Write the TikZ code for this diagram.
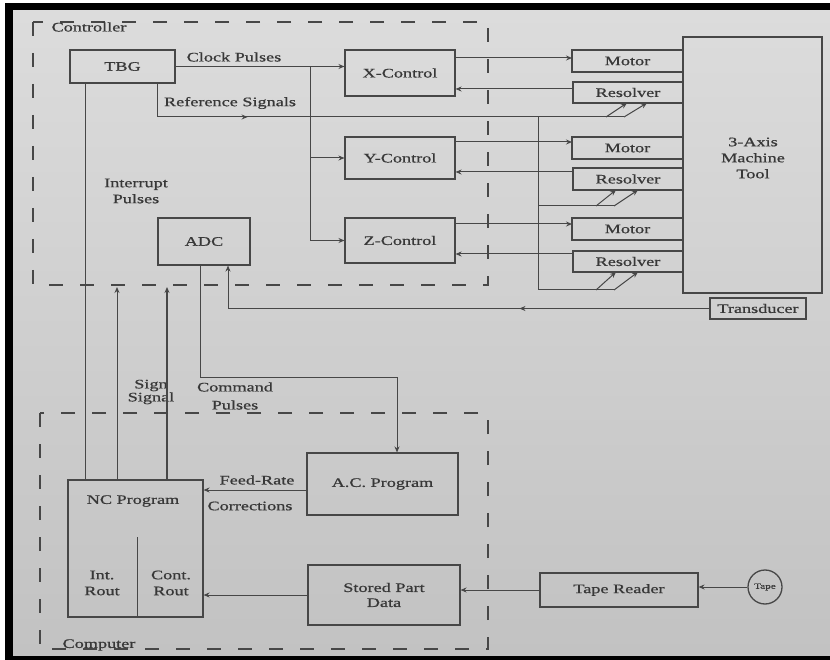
\documentclass[tikz,border=0pt]{standalone}
\usepackage{fontspec}
\setmainfont{Liberation Serif}[FakeStretch=1.4,FakeBold=0.8]
\usetikzlibrary{arrows.meta,decorations.markings}
\definecolor{lc}{HTML}{474747}
\definecolor{tc}{HTML}{383838}
\definecolor{bgtop}{HTML}{DCDCDC}
\definecolor{bgbot}{HTML}{C2C2C2}
\tikzset{
  ln/.style={draw=lc, line width=1pt},
  arr/.style={ln, -{Stealth[length=6pt,width=5pt]}},
  box/.style={draw=lc, line width=1.1pt, inner sep=0pt, text=tc, align=center},
  lbl/.style={text=tc, inner sep=0pt, align=center},
  dashbox/.style={draw=lc, line width=1.3pt, dash pattern=on 14pt off 17pt},
  midarrow/.style={postaction={decorate}, decoration={markings, mark=at position #1 with {\arrow{Stealth[length=6pt,width=5pt]}}}}
}
\begin{document}
\begin{tikzpicture}[x=1pt,y=-1pt, font=\fontsize{13}{16}\selectfont]
\useasboundingbox (0,0) rectangle (830,660);
\fill[white] (0,0) rectangle (830,660);
\shade[top color=bgtop, bottom color=bgbot] (13,10) rectangle (830,656);
\fill[black] (5,3) rectangle (830,10);
\fill[black] (5,3) rectangle (13,660);
\fill[black] (5,656) rectangle (830,660);

% dashed regions
\draw[dashbox] (33,22) rectangle (488,285);
\draw[dashbox] (40,413) rectangle (488,649);
\node[lbl] (ctl) at (89,27) {Controller};
\node[lbl] (cmp) at (99,645) {Computer};

% controller boxes
\node[box, minimum width=105pt, minimum height=33pt] (tbg) at (122.5,66.5) {TBG};
\node[box, minimum width=110pt, minimum height=46pt] (xc) at (400,73) {X-Control};
\node[box, minimum width=110pt, minimum height=42pt] (yc) at (400,158) {Y-Control};
\node[box, minimum width=110pt, minimum height=45pt] (zc) at (400,240.5) {Z-Control};
\node[box, minimum width=92pt, minimum height=47pt] (adc) at (204,241.5) {ADC};

% motors / resolvers
\node[box, minimum width=111pt, minimum height=22pt] (m1) at (627.5,61) {Motor};
\node[box, minimum width=110pt, minimum height=21pt] (r1) at (628,92.5) {Resolver};
\node[box, minimum width=111pt, minimum height=22pt] (m2) at (627.5,148) {Motor};
\node[box, minimum width=110pt, minimum height=22pt] (r2) at (628,179) {Resolver};
\node[box, minimum width=111pt, minimum height=22pt] (m3) at (627.5,229) {Motor};
\node[box, minimum width=110pt, minimum height=21pt] (r3) at (628,261.5) {Resolver};

% machine tool
\node[box, minimum width=139pt, minimum height=256pt] (mt) at (752.5,165) {};
\node[lbl] (mttxt) at (753,158) {3-Axis\\Machine\\Tool};
\node[box, minimum width=96pt, minimum height=21pt] (tr) at (758,308.5) {Transducer};

% computer boxes
\node[box, minimum width=135pt, minimum height=137pt] (nc) at (135.5,548.5) {};
\node[lbl] (nctxt) at (133,501) {NC Program};
\coordinate (ncdiv) at (137,537);
\draw[ln] (ncdiv) -- (ncdiv |- nc.south);
\node[lbl] (intr) at (102,583) {Int.\\Rout};
\node[lbl] (cntr) at (171,583) {Cont.\\Rout};
\node[box, minimum width=151pt, minimum height=62pt] (ac) at (382.5,484) {A.C. Program};
\node[box, minimum width=152pt, minimum height=60pt, font=\fontsize{13}{15}\selectfont] (spd) at (384,595) {Stored Part\\Data};
\node[box, minimum width=158pt, minimum height=34pt] (trd) at (619,590) {Tape Reader};
\node[box, circle, minimum size=34pt, line width=1.3pt, font=\fontsize{8}{9}\selectfont] (tape) at (765,587) {Tape};

% labels
\node[lbl] (clk) at (234,57) {Clock Pulses};
\node[lbl] (refl) at (230,103) {Reference Signals};
\node[lbl] (intp) at (136,191) {Interrupt\\Pulses};
\node[lbl, font=\fontsize{13}{13}\selectfont] (sgn) at (151,392) {Sign\\Signal};
\node[lbl, font=\fontsize{13}{18}\selectfont] (cmdp) at (235,396) {Command\\Pulses};
\node[lbl] (feed) at (257,480) {Feed-Rate};
\node[lbl] (corr) at (250,506) {Corrections};

% clock pulses
\coordinate (br) at (310,66.5);
\draw[arr] (tbg.east) -- (xc.west |- tbg.east);
\draw[arr] (br) |- (yc.west);
\draw[arr] (br) |- (zc.west);

% reference signals bus
\coordinate (rs1) at (157,117);
\coordinate (bus1) at (538,117);
\coordinate (bus2) at (538,206);
\coordinate (bus3) at (538,290);
\draw[ln, midarrow=124pt] (tbg.south -| rs1) -- (rs1) -- (624,117);
\draw[ln] (bus1) -- (bus3);
\draw[ln] (bus2) -- (614,206);
\draw[ln] (bus3) -- (614,290);
\draw[arr] (606,117) -- (627,103);
\draw[arr] (624,117) -- (647,103);
\draw[arr] (596,206) -- (616,190);
\draw[arr] (614,206) -- (638,190);
\draw[arr] (596,290) -- (616,272);
\draw[arr] (614,290) -- (638,272);

% control to motor / resolver to control
\coordinate (m1in) at (572,58);
\coordinate (r1out) at (573,89);
\coordinate (m2in) at (572,142);
\coordinate (r2out) at (573,172);
\coordinate (m3in) at (572,224);
\coordinate (r3out) at (573,254);
\draw[arr] (xc.east |- m1in) -- (m1in);
\draw[arr] (r1out) -- (xc.east |- r1out);
\draw[arr] (yc.east |- m2in) -- (m2in);
\draw[arr] (r2out) -- (yc.east |- r2out);
\draw[arr] (zc.east |- m3in) -- (m3in);
\draw[arr] (r3out) -- (zc.east |- r3out);

% transducer feedback
\coordinate (tx) at (228,308.5);
\draw[arr, midarrow=190pt] (tr.west) -- (tx) -- (adc.south -| tx);

% command pulses
\coordinate (cx) at (200,377);
\coordinate (cy) at (397,377);
\draw[arr] (adc.south -| cx) -- (cx) -- (cy) -- (ac.north -| cy);

% interrupt pulses and sign signals
\coordinate (ix) at (85,0);
\draw[ln] (tbg.south -| ix) -- (nc.north -| ix);
\coordinate (s1) at (117,287);
\coordinate (s2) at (167,287);
\draw[arr] (nc.north -| s1) -- (s1);
\draw[arr, line width=1.4pt] (nc.north -| s2) -- (s2);

% computer connections
\coordinate (fr) at (307,490);
\draw[arr] (ac.west |- fr) -- (nc.east |- fr);
\draw[arr] (spd.west) -- (nc.east |- spd.west);
\draw[arr] (trd.west) -- (spd.east |- trd.west);
\draw[arr] (tape.west) -- (trd.east |- tape.west);
\end{tikzpicture}
\end{document}
